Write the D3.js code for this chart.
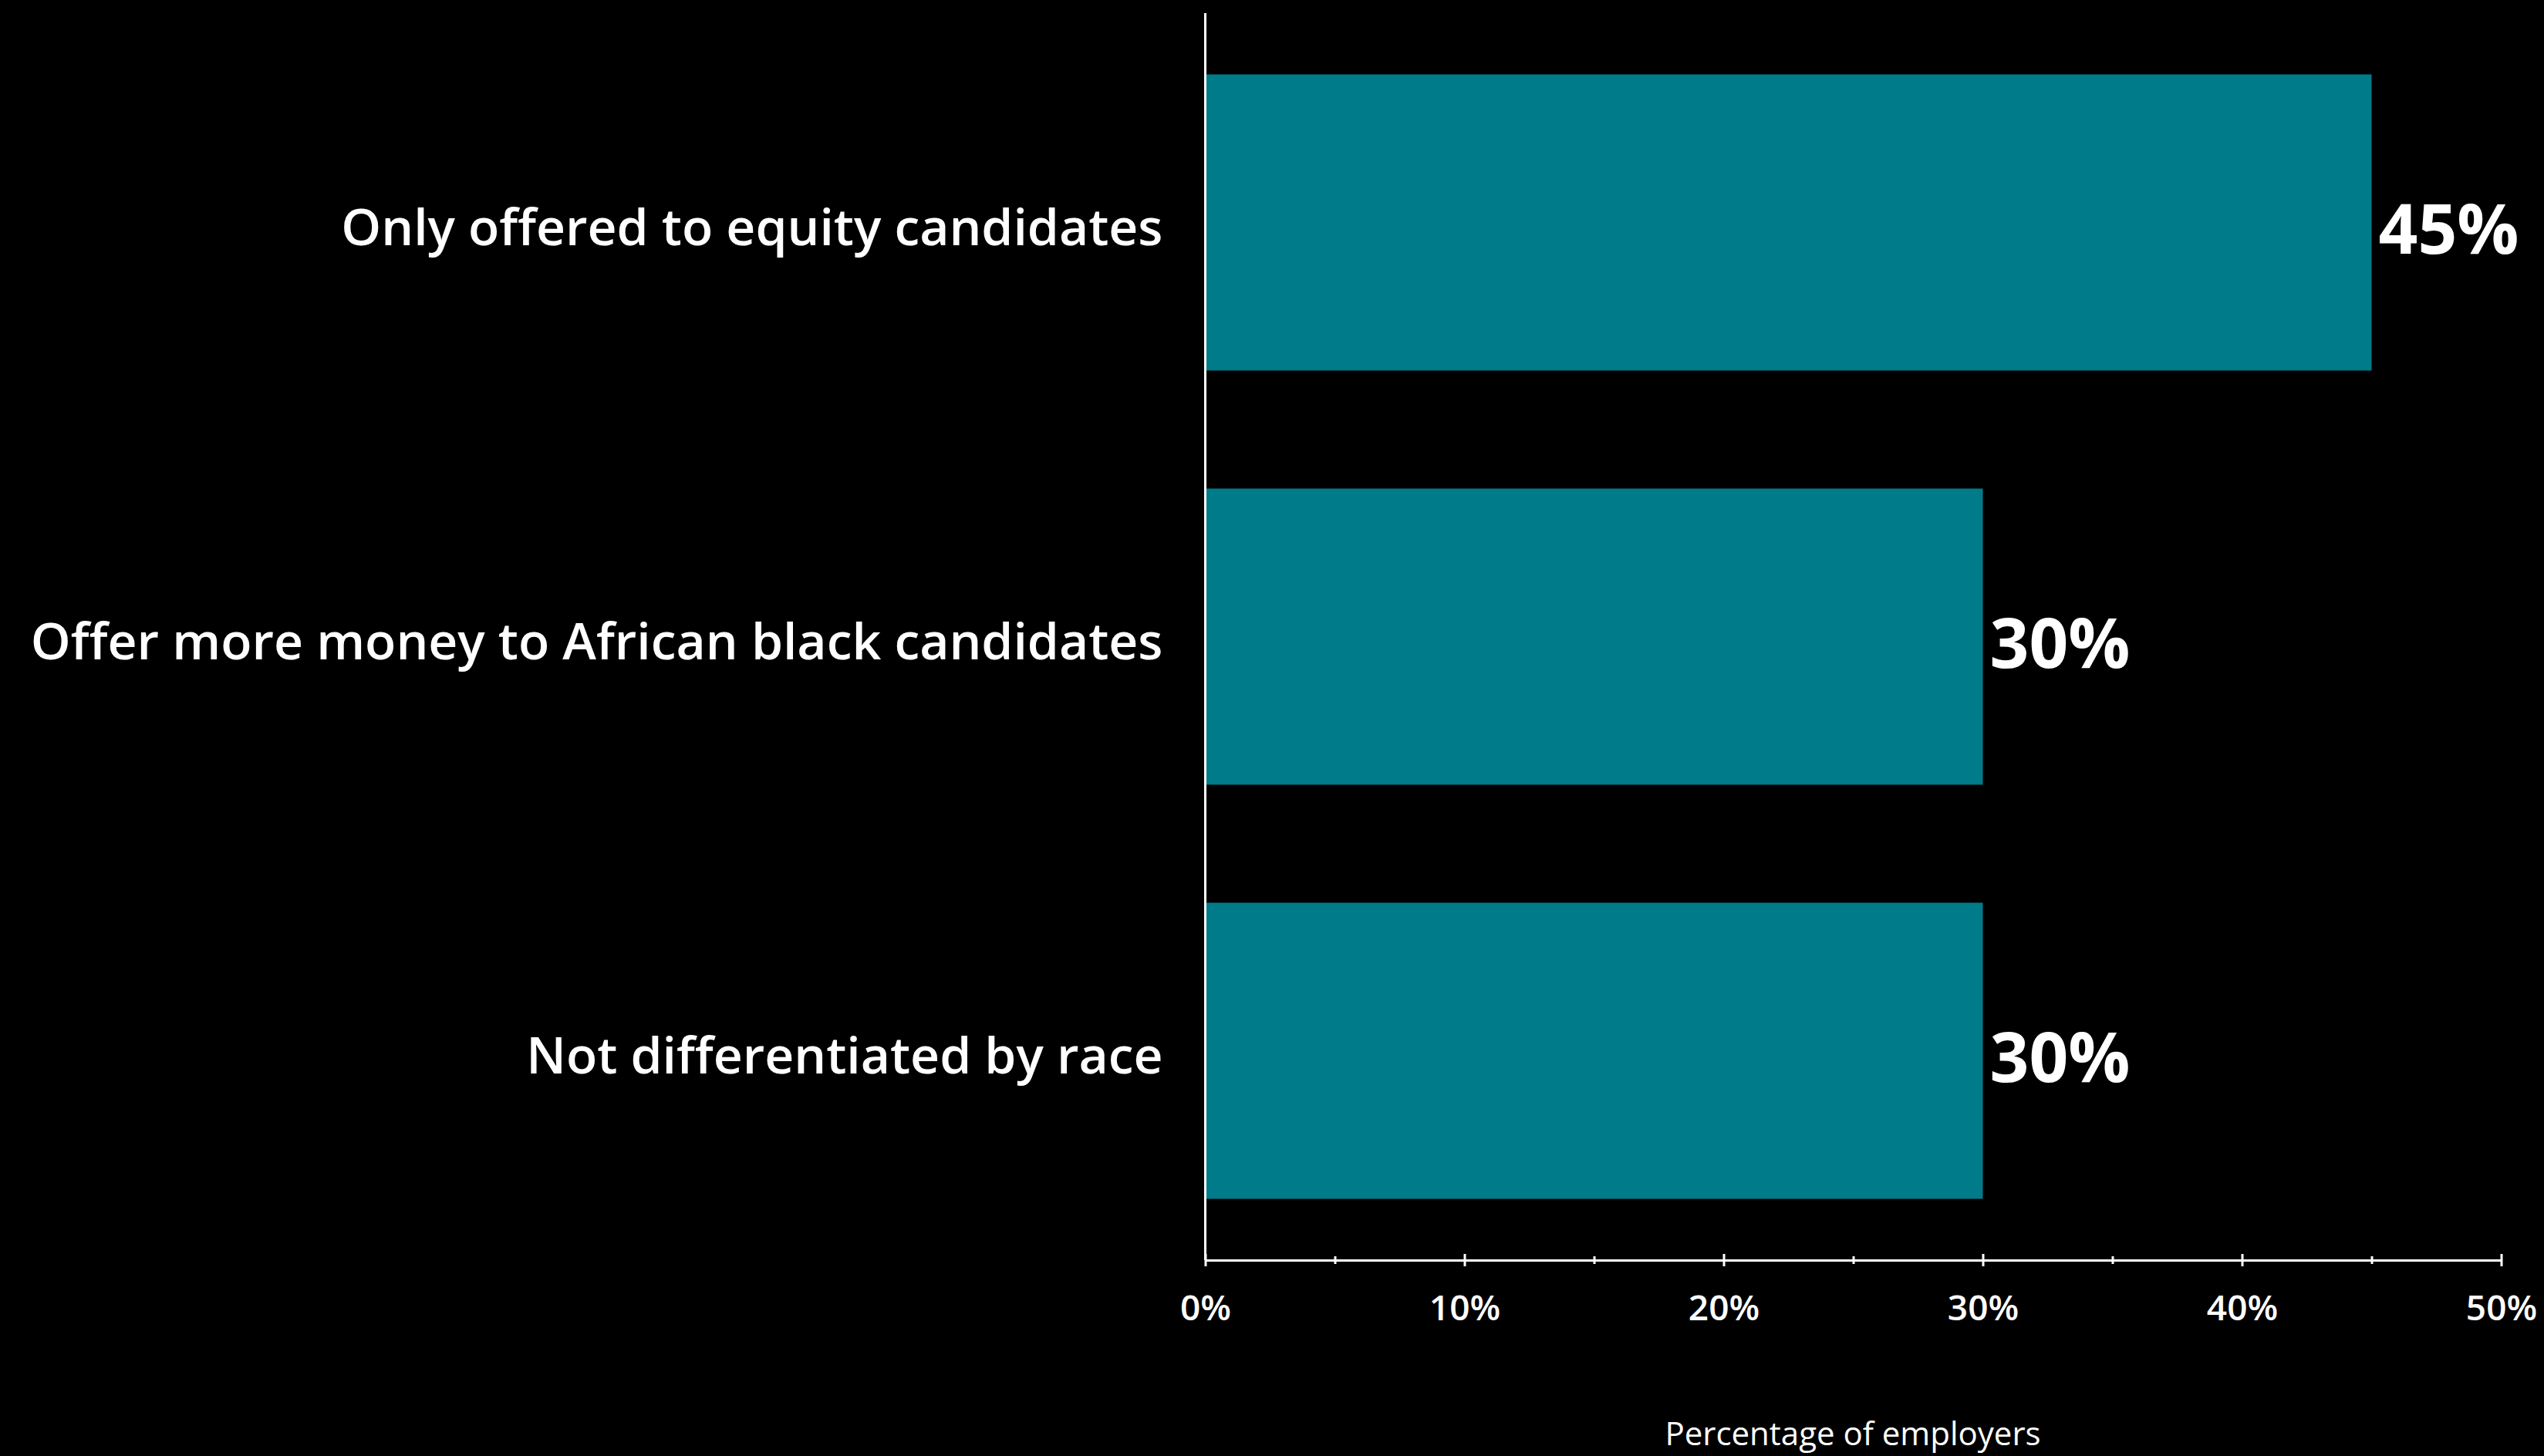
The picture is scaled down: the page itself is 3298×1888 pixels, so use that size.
<!DOCTYPE html>
<html><head><meta charset="utf-8">
<script src="https://cdn.jsdelivr.net/npm/d3@7"></script>
<style>html,body{margin:0;padding:0;background:#000;}svg{display:block;}</style>
</head><body>
<script>
const categories = ["Only offered to equity candidates", "Offer more money to African black candidates", "Not differentiated by race"];
const values = [45, 30, 30];
const tickValues = [0, 10, 20, 30, 40, 50];
const tickLabels = ["0%", "10%", "20%", "30%", "40%", "50%"];
const minorTicks = [5, 15, 25, 35, 45];
const axisTitle = "Percentage of employers";

const W = 3298, H = 1888;
const font = "'Open Sans', sans-serif";
const svg = d3.select("body").append("svg").attr("width", W).attr("height", H).style("background", "#000");

const x = d3.scaleLinear().domain([0, 50]).range([1562.5, 3242.5]);
const y = d3.scaleBand().domain(categories).range([17, 1634]).paddingInner(0.285).paddingOuter(0.148);

svg.selectAll("rect.bar").data(categories).enter().append("rect")
  .attr("class", "bar")
  .attr("x", x(0))
  .attr("y", d => y(d))
  .attr("width", (d, i) => x(values[i]) - x(0))
  .attr("height", y.bandwidth())
  .attr("fill", "#007b8a");

// y axis line
svg.append("line").attr("x1", x(0)).attr("x2", x(0)).attr("y1", 17).attr("y2", 1634)
  .attr("stroke", "#fff").attr("stroke-width", 3);

// x axis
const xAxis = d3.axisBottom(x).tickValues(tickValues).tickFormat((d, i) => tickLabels[i]).tickSize(8).tickSizeOuter(0);
const gx = svg.append("g").attr("transform", "translate(0,1634)").call(xAxis);
gx.select(".domain").attr("stroke", "#fff").attr("stroke-width", 3);
gx.selectAll(".tick line").attr("stroke", "#fff").attr("stroke-width", 3).attr("y1", -8).attr("y2", 8);
gx.selectAll(".tick text").attr("fill", "#fff").attr("font-family", font).attr("font-size", 46)
  .attr("font-weight", 600).attr("y", 0).attr("dy", 0).attr("transform", "translate(0,78)");

const minorAxis = d3.axisBottom(x).tickValues(minorTicks).tickFormat("").tickSize(5).tickSizeOuter(0);
const gm = svg.append("g").attr("transform", "translate(0,1634)").call(minorAxis);
gm.select(".domain").remove();
gm.selectAll(".tick line").attr("stroke", "#fff").attr("stroke-width", 3).attr("y1", -5).attr("y2", 5);

// category labels
svg.selectAll("text.cat").data(categories).enter().append("text")
  .attr("class", "cat")
  .attr("x", x(0) - 55)
  .attr("y", d => y(d) + y.bandwidth() / 2)
  .attr("dy", "0.45em")
  .attr("text-anchor", "end")
  .attr("fill", "#fff")
  .attr("font-family", font)
  .attr("font-weight", 600)
  .attr("font-size", 66)
  .text(d => d);

// value labels
svg.selectAll("text.val").data(categories).enter().append("text")
  .attr("class", "val")
  .attr("x", (d, i) => x(values[i]) + 9)
  .attr("y", d => y(d) + y.bandwidth() / 2)
  .attr("dy", "0.45em")
  .attr("fill", "#fff")
  .attr("font-family", font)
  .attr("font-weight", 700)
  .attr("font-size", 89)
  .text((d, i) => values[i] + "%");

// axis title
svg.append("text").attr("x", 2402).attr("y", 1874).attr("text-anchor", "middle")
  .attr("fill", "#fff").attr("font-family", font).attr("font-size", 42).text(axisTitle);
</script>
</body></html>
